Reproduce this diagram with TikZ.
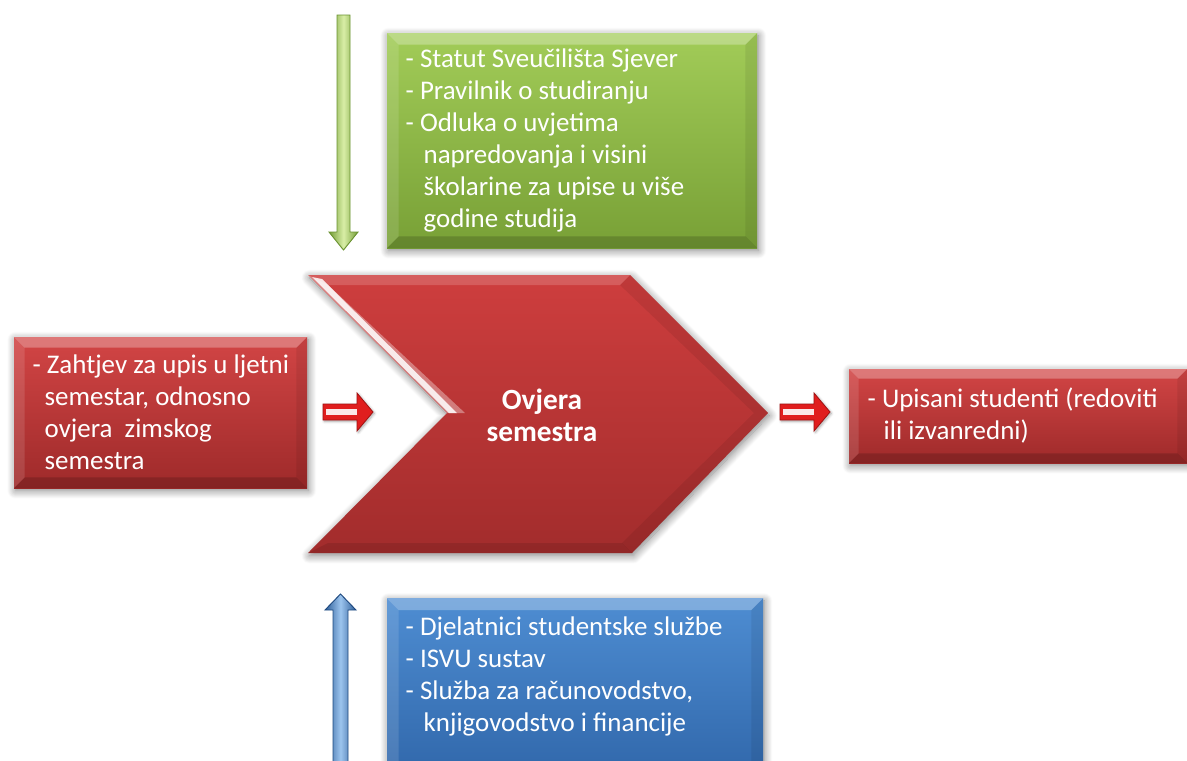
\documentclass[tikz,border=0pt]{standalone}
\usepackage{fontspec}
\setmainfont{Carlito}
\usetikzlibrary{shadows.blur,calc}
\definecolor{grnTop}{HTML}{A2CC58}
\definecolor{grnBot}{HTML}{78A036}
\definecolor{redTop}{HTML}{D24545}
\definecolor{redBot}{HTML}{9E2A2A}
\definecolor{chevTop}{HTML}{CE3E3E}
\definecolor{chevBot}{HTML}{A22C2C}
\definecolor{bluTop}{HTML}{4E8DD2}
\definecolor{bluBot}{HTML}{2A5FA2}
\definecolor{arrRed}{HTML}{E01E1E}
\definecolor{arrRedDark}{HTML}{A01212}
\definecolor{grnArrEdge}{HTML}{6A9230}
\definecolor{grnArrMid}{HTML}{D8EEA6}
\definecolor{bluArrEdge}{HTML}{1F4A80}
\definecolor{bluArrMid}{HTML}{9CC4EE}
\newcommand\bevelbox[2]{%
 \fill[white,opacity=.28] (#1.north west) -- (#1.north east) -- ($(#1.north east)+(-#2,#2)$) -- ($(#1.north west)+(#2,#2)$) -- cycle;
 \fill[white,opacity=.12] (#1.north west) -- ($(#1.north west)+(#2,#2)$) -- ($(#1.south west)+(#2,-#2)$) -- (#1.south west) -- cycle;
 \fill[black,opacity=.16] (#1.south west) -- ($(#1.south west)+(#2,-#2)$) -- ($(#1.south east)+(-#2,-#2)$) -- (#1.south east) -- cycle;
 \fill[black,opacity=.07] (#1.north east) -- (#1.south east) -- ($(#1.south east)+(-#2,-#2)$) -- ($(#1.north east)+(-#2,#2)$) -- cycle;
}
\newcommand\boxlines[2]{\parbox{#1}{\raggedright #2}}
\tikzset{
 softshadow/.style={blur shadow={shadow blur steps=12, shadow xshift=1pt, shadow yshift=-2pt, shadow blur radius=6pt, shadow opacity=50}},
 box/.style={rectangle, draw=none, text=white, font=\fontsize{20.2}{24}\selectfont, inner xsep=14pt, shading=axis, softshadow},
 greenbox/.style={box, top color=grnTop, bottom color=grnBot},
 redbox/.style={box, top color=redTop, bottom color=redBot},
 bluebox/.style={box, top color=bluTop, bottom color=bluBot},
 chevron/.style={shading=axis, top color=chevTop, bottom color=chevBot, softshadow},
 redarrow/.style={fill=arrRed, draw=arrRedDark, line width=0.6pt, blur shadow={shadow blur steps=5, shadow xshift=1pt, shadow yshift=-1pt, shadow blur radius=2pt, shadow opacity=35}},
 greenarrow/.style={shading=axis, shading angle=90, left color=grnArrEdge!80!grnTop, right color=grnArrEdge!80!grnTop, middle color=grnArrMid, draw=grnArrEdge, line width=0.7pt},
 bluearrow/.style={shading=axis, shading angle=90, left color=bluArrEdge!70!bluTop, right color=bluArrEdge!70!bluTop, middle color=bluArrMid, draw=bluArrEdge, line width=0.7pt},
 arrowgleam/.style={fill=white, opacity=0.9},
 chevtext/.style={text=white, align=center, font=\bfseries\fontsize{22}{24}\selectfont}
}
\begin{document}
\begin{tikzpicture}[x=0.75pt,y=-0.75pt]
\useasboundingbox (0,0) rectangle (1187,760);
\clip (0,0) rectangle (1187,760);

% central chevron
\coordinate (cTL) at (308,275);
\coordinate (cTR) at (630,275);
\coordinate (cTip) at (768,413);
\coordinate (cBR) at (632,553);
\coordinate (cBL) at (308,553);
\coordinate (cNotch) at (447,413);
\path[chevron] (cTL) -- (cTR) -- (cTip) -- (cBR) -- (cBL) -- (cNotch) -- cycle;
\fill[white,opacity=.16] (cTL) -- (cTR) -- ($(cTR)+(-10,10)$) -- ($(cTL)+(20,10)$) -- cycle;
\fill[white,opacity=.35] (cTL) -- (cNotch) -- ($(cNotch)+(18,0)$) -- ($(cTL)+(20,10)$) -- cycle;
\fill[white,opacity=.85] ($(cTL)+(4,2)$) -- ($(cNotch)+(2,0)$) -- ($(cNotch)+(10,0)$) -- ($(cTL)+(14,4)$) -- cycle;
\fill[black,opacity=.10] (cBL) -- (cBR) -- ($(cBR)+(-10,-10)$) -- ($(cBL)+(20,-10)$) -- cycle;
\fill[black,opacity=.07] (cTR) -- (cTip) -- (cBR) -- ($(cBR)+(-10,-10)$) -- ($(cTip)+(-14,0)$) -- ($(cTR)+(-10,10)$) -- cycle;
\node[chevtext] (ovjera) at (542,415) {Ovjera\\semestra};

% green box
\node[greenbox, minimum height=161.25pt] (green) at (572,140.5)
 {\boxlines{249.5pt}{- Statut Sveučilišta Sjever\\
  - Pravilnik o studiranju\\
  - Odluka o uvjetima\\
  \hspace*{13.5pt}napredovanja i visini\\
  \hspace*{13.5pt}školarine za upise u više\\
  \hspace*{13.5pt}godine studija}};
\bevelbox{green}{12}

% left red box
\node[redbox, minimum height=113.25pt] (left) at (160.5,412.5)
 {\boxlines{191.75pt}{\mbox{- Zahtjev za upis u ljetni}\\
  \hspace*{9pt}semestar, odnosno\\
  \hspace*{9pt}ovjera\ \ zimskog\\
  \hspace*{9pt}semestra}};
\bevelbox{left}{11}

% right red box
\node[redbox, minimum height=70.5pt] (right) at (1018,416)
 {\boxlines{225.5pt}{\mbox{- Upisani studenti (redoviti}\\
  \hspace*{12pt}ili izvanredni)}};
\bevelbox{right}{10}

% blue box (runs off the bottom edge)
\node[bluebox, anchor=north, inner ysep=14pt] (blue) at (575,598)
 {\parbox[c][135pt][t]{254pt}{\raggedright
  - Djelatnici studentske službe\\
  - ISVU sustav\\
  - Služba za računovodstvo,\\
  \hspace*{13.5pt}knjigovodstvo i financije}};
\bevelbox{blue}{12}

% green down arrow (into the process)
\coordinate (gTop) at (343.5,15);
\coordinate (gTip) at (343.5,250);
\path[greenarrow] ($(gTop)+(-6.5,0)$) -- ($(gTop)+(6.5,0)$) -- ($(gTip)+(6.5,-18)$) -- ($(gTip)+(14.5,-18)$) -- (gTip) -- ($(gTip)+(-14.5,-18)$) -- ($(gTip)+(-6.5,-18)$) -- cycle;

% blue up arrow (into the process)
\coordinate (bBot) at (340.5,775);
\coordinate (bTip) at (340.5,594);
\path[bluearrow] ($(bBot)+(-7.5,0)$) -- ($(bTip)+(-7.5,16)$) -- ($(bTip)+(-15.5,16)$) -- (bTip) -- ($(bTip)+(15.5,16)$) -- ($(bTip)+(7.5,16)$) -- ($(bBot)+(7.5,0)$) -- cycle;

% small red arrows
\coordinate (la) at (323,412);
\path[redarrow] (la) -- ++(0,-8) -- ++(34,0) -- ++(0,-11) -- ++(16,19) -- ++(-16,19) -- ++(0,-11) -- ++(-34,0) -- cycle;
\fill[arrowgleam] ($(la)+(3,-3)$) rectangle ($(la)+(34,3)$);
\coordinate (ra) at (780,412);
\path[redarrow] (ra) -- ++(0,-8) -- ++(34,0) -- ++(0,-11) -- ++(16,19) -- ++(-16,19) -- ++(0,-11) -- ++(-34,0) -- cycle;
\fill[arrowgleam] ($(ra)+(3,-3)$) rectangle ($(ra)+(34,3)$);
\end{tikzpicture}
\end{document}
